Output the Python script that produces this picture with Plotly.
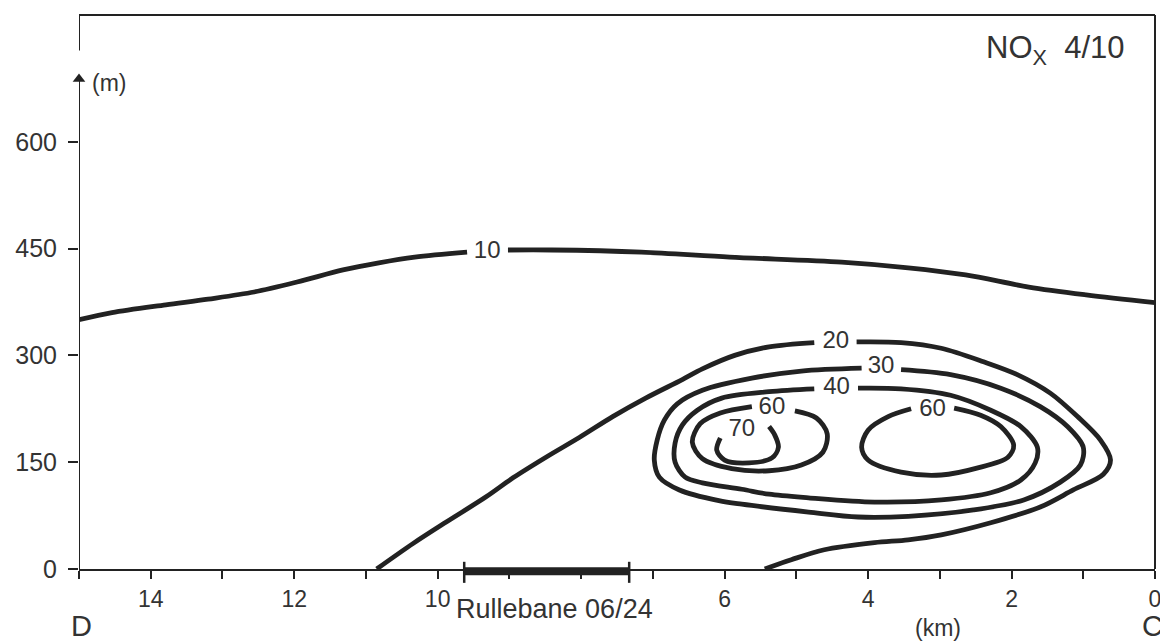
import plotly.graph_objects as go

# ---- data: x = distance (km), y = height (m) ----
c10_km = [15.0, 14.54, 13.79, 13.20, 12.56, 11.96, 11.32, 10.82, 10.32, 9.59, None,
          9.02, 8.41, 7.16, 5.93, 4.37, 3.44, 2.64, 1.76, 0.96, 0.0]
c10_m = [350, 360, 371, 379, 389, 403, 420, 430, 438, 445, None,
         448, 448, 445, 438, 431, 423, 413, 396, 385, 374]

c20_km = [10.85, 10.34, 9.88, 9.33, 8.95, 8.49, 8.02, 7.56, 7.10, 6.59, 6.31, 5.86, 5.38, 4.75, None,
          4.16, 3.54, 2.98, 2.39, 1.92, 1.46, 1.08, 0.76, 0.62, 0.72, 1.14, 1.60, 2.29, 2.98,
          3.44, 3.91, 4.61, 5.07, 5.44]
c20_m = [0, 36, 66, 101, 128, 157, 185, 214, 240, 266, 281, 300, 312, 318, None,
         319, 318, 310, 291, 273, 247, 214, 181, 153, 133, 111, 87, 65, 48,
         41, 37, 27, 13, 0]

c30_km = [3.54, 2.85, 2.15, 1.60, 1.22, 1.00, 1.04, 1.32, 1.83, 2.53, 3.44, 4.14, 4.83,
          5.76, 6.08, 6.63, 6.91, 6.98, 6.94, 6.84, 6.66, 6.31, 5.62, 4.93, 4.09]
c30_m = [280, 273, 254, 228, 200, 171, 146, 122, 97, 83, 74, 73, 80,
         91, 96, 111, 129, 153, 181, 209, 232, 251, 268, 278, 282]

c40_km = [4.14, 3.54, 2.85, 2.29, 1.87, 1.64, 1.67, 1.87, 2.29, 2.98, 3.91, 4.83, 5.38,
          5.76, 6.31, 6.55, 6.69, 6.69, 6.59, 6.38, 6.04, 5.38, 4.75]
c40_m = [254, 253, 244, 223, 200, 171, 149, 125, 107, 97, 94, 100, 105,
         112, 121, 129, 150, 177, 202, 223, 240, 249, 253]

c60a_km = [5.02, 4.72, 4.57, 4.63, 4.93, 5.38, 5.90, 6.31, 6.45, 6.34, 6.06, 5.62]
c60a_m = [222, 212, 190, 164, 146, 138, 141, 155, 178, 204, 219, 228]

c70_km = [6.06, 6.11, 6.00, 5.66, 5.34, 5.25, 5.30, 5.38]
c70_m = [184, 167, 153, 149, 156, 171, 188, 200]

c60b_km = [2.80, 2.43, 2.15, 1.97, 2.05, 2.47, 2.98, 3.54, 4.00, 4.09, 4.00, 3.72, 3.40]
c60b_m = [226, 216, 200, 174, 157, 142, 132, 136, 153, 171, 195, 214, 225]

label_km = [9.31, 4.45, 3.82, 4.44, 5.34, 5.76, 3.10]
label_m = [445, 319, 284, 254, 226, 195, 223]
label_text = ["10", "20", "30", "40", "60", "70", "60"]

runway_km = [9.63, 7.33]

x_tickvals = [14, 12, 10, 6, 4, 2, 0]
x_ticktext = ["14", "12", "10", "6", "4", "2", "0"]
x_minorvals = [15, 13, 11, 9, 8, 7, 5, 3, 1]
y_tickvals = [0, 150, 300, 450, 600]

INK = "#222222"
TXT = "#333333"
FONT = "Liberation Sans, Arial, Helvetica, sans-serif"

fig = go.Figure()

contours = [(c10_km, c10_m), (c20_km, c20_m), (c30_km, c30_m), (c40_km, c40_m),
            (c60a_km, c60a_m), (c70_km, c70_m), (c60b_km, c60b_m)]
for xs, ys in contours:
    fig.add_trace(go.Scatter(x=xs, y=ys, mode="lines",
                             line=dict(color=INK, width=4.8, shape="spline", smoothing=0.9),
                             connectgaps=False, hoverinfo="skip"))

fig.add_trace(go.Scatter(x=label_km, y=label_m, mode="text", text=label_text,
                         textfont=dict(family=FONT, size=24, color=TXT),
                         textposition="middle center", hoverinfo="skip"))

# y-axis arrow head
fig.add_trace(go.Scatter(x=[15], y=[688], mode="markers",
                         marker=dict(symbol="triangle-up", size=11, color=INK),
                         cliponaxis=False, hoverinfo="skip"))

axis_line = dict(color=INK, width=2)
fig.add_shape(type="line", xref="x", yref="y", x0=15, x1=15, y0=0, y1=690, line=axis_line)
fig.add_shape(type="line", xref="x", yref="y", x0=15, x1=15, y0=728, y1=778, line=axis_line)
fig.add_shape(type="line", xref="paper", yref="paper", x0=0, x1=1, y0=1, y1=1, line=axis_line)
fig.add_shape(type="line", xref="paper", yref="paper", x0=1, x1=1, y0=0, y1=1, line=axis_line)

# runway bar (below the axis line) with end caps
fig.add_shape(type="line", xref="x", yref="paper", x0=runway_km[0], x1=runway_km[1],
              y0=-0.004, y1=-0.004, line=dict(color=INK, width=8))
for rk in runway_km:
    fig.add_shape(type="line", xref="x", yref="paper", x0=rk, x1=rk,
                  y0=0.013, y1=-0.025, line=dict(color=INK, width=2.5))

# the page is drawn with an 8px body margin, so the figure is 8px smaller
fig.update_layout(
    width=1160, height=634,
    margin=dict(l=66, r=13, t=7, b=73),
    plot_bgcolor="white", paper_bgcolor="white",
    showlegend=False,
    font=dict(family=FONT, color=TXT),
    xaxis=dict(range=[15, 0], showline=True, linecolor=INK, linewidth=2,
               ticks="outside", ticklen=8, tickwidth=2, tickcolor=INK,
               tickvals=x_tickvals, ticktext=x_ticktext,
               tickfont=dict(family=FONT, size=23, color=TXT),
               ticklabelstandoff=0,
               minor=dict(tickvals=x_minorvals, ticks="outside", ticklen=8,
                          tickwidth=2, tickcolor=INK, showgrid=False),
               showgrid=False, zeroline=False),
    yaxis=dict(range=[0, 778], showline=False,
               ticks="outside", ticklen=10, tickwidth=2, tickcolor=INK,
               tickvals=y_tickvals,
               tickfont=dict(family=FONT, size=25, color=TXT),
               ticklabelstandoff=6,
               showgrid=False, zeroline=False),
    annotations=[
        dict(text="NO<sub>X</sub>&nbsp; 4/10", xref="paper", yref="paper", x=0.974, y=0.937,
             xanchor="right", yanchor="middle", showarrow=False,
             font=dict(family=FONT, size=31, color=TXT)),
        dict(text="(m)", xref="paper", yref="paper", x=0.028, y=0.877,
             xanchor="center", yanchor="middle", showarrow=False,
             font=dict(family=FONT, size=23, color=TXT)),
        dict(text="D", xref="paper", yref="paper", x=0.002, y=-0.103,
             xanchor="center", yanchor="middle", showarrow=False,
             font=dict(family=FONT, size=29, color=TXT)),
        dict(text="C", xref="paper", yref="paper", x=1.0095, y=-0.103,
             xanchor="right", yanchor="middle", showarrow=False,
             font=dict(family=FONT, size=29, color=TXT)),
        dict(text="(km)", xref="paper", yref="paper", x=0.798, y=-0.107,
             xanchor="center", yanchor="middle", showarrow=False,
             font=dict(family=FONT, size=23, color=TXT)),
        dict(text="Rullebane 06/24", xref="paper", yref="paper", x=0.442, y=-0.072,
             xanchor="center", yanchor="middle", showarrow=False,
             font=dict(family=FONT, size=27, color=TXT)),
    ],
)

fig.write_html("out.html")
